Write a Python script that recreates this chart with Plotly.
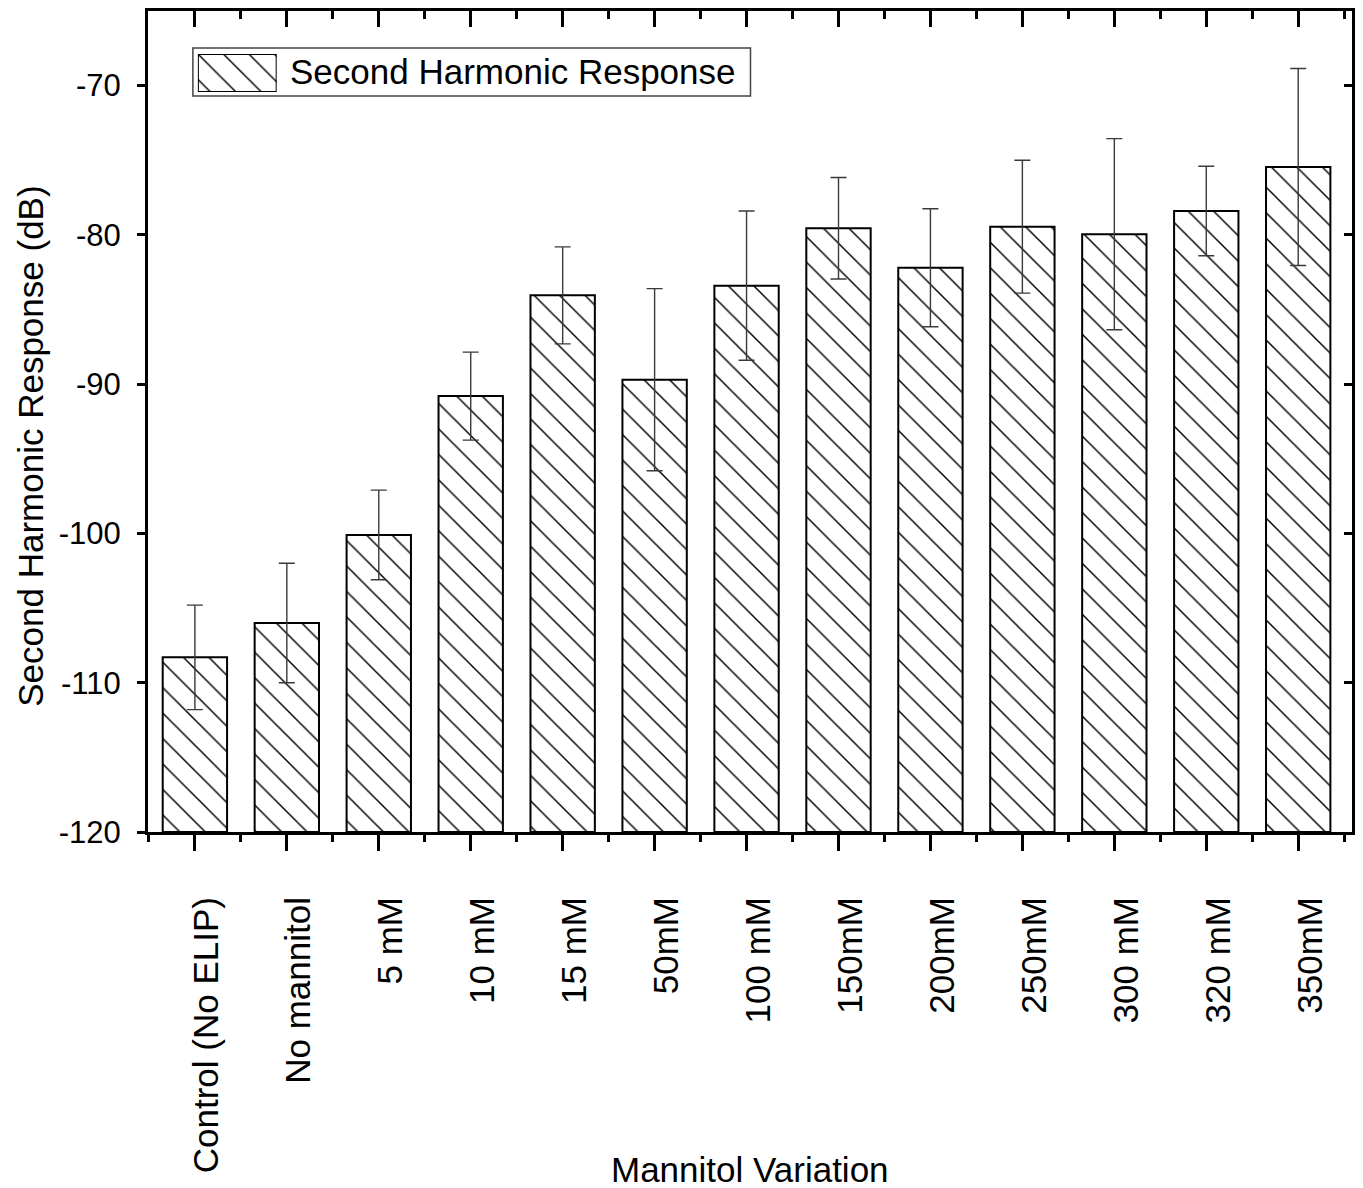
import plotly.graph_objects as go

categories = ["Control (No ELIP)", "No mannitol", "5 mM", "10 mM", "15 mM", "50mM",
              "100 mM", "150mM", "200mM", "250mM", "300 mM", "320 mM", "350mM"]
means = [-108.3, -106.0, -100.1, -90.8, -84.05, -89.7, -83.4, -79.55, -82.2,
         -79.45, -79.95, -78.4, -75.45]
errors = [3.5, 4.0, 3.0, 2.95, 3.25, 6.1, 5.0, 3.4, 3.95, 4.45, 6.4, 3.0, 6.6]
y_ticks = [-120, -110, -100, -90, -80, -70]
series_name = "Second Harmonic Response"
x_title = "Mannitol Variation"
y_title = "Second Harmonic Response (dB)"

Y_MIN, Y_MAX = -120, -65
X_RANGE = [-0.51, 12.585]
FONT = "Arial, Liberation Sans, sans-serif"

W, H = 1363, 1188
L, R, T, B = 148, 8, 10, 356
pw, ph = W - L - R, H - T - B


def px2paper_x(px):
    return (px - L) / pw


def px2paper_y(py):
    return (H - B - py) / ph


pattern = dict(shape="\\", size=18, solidity=0.08, fgcolor="black", bgcolor="white",
               fillmode="overlay", fgopacity=1)

fig = go.Figure()

# main bars (drawn from baseline -120 up to the mean)
fig.add_trace(go.Bar(
    x=categories,
    y=[m - Y_MIN for m in means],
    base=Y_MIN,
    width=0.7,
    name=series_name,
    showlegend=False,
    marker=dict(color="white", pattern=pattern, line=dict(color="black", width=2)),
    error_y=dict(type="data", array=errors, visible=True, color="#3a3a3a",
                 thickness=1.4, width=8),
))

# helper empty traces so that overlay tick axes are drawn
fig.add_trace(go.Scatter(x=[None], y=[None], xaxis="x2", yaxis="y", showlegend=False,
                         hoverinfo="skip"))
fig.add_trace(go.Scatter(x=[None], y=[None], xaxis="x3", yaxis="y", showlegend=False,
                         hoverinfo="skip"))
fig.add_trace(go.Scatter(x=[None], y=[None], xaxis="x", yaxis="y2", showlegend=False,
                         hoverinfo="skip"))

# legend swatch (custom legend)
fig.add_trace(go.Bar(
    x=[0], y=[1], width=1, xaxis="x4", yaxis="y4", showlegend=False, cliponaxis=False,
    hoverinfo="skip",
    marker=dict(color="white", pattern=pattern, line=dict(color="black", width=2)),
))

axis_common = dict(showgrid=False, zeroline=False, tickcolor="black", tickwidth=3)

fig.update_layout(
    width=W, height=H,
    margin=dict(l=L, r=R, t=T, b=B, pad=0),
    paper_bgcolor="white", plot_bgcolor="white",
    font=dict(family=FONT, color="black"),
    showlegend=False,
    xaxis=dict(
        type="category", range=X_RANGE, showline=True, linewidth=3, linecolor="black",
        mirror=True, ticks="outside", ticklen=16, tickangle=-90,
        tickfont=dict(size=35, family=FONT), ticklabelstandoff=32, ticklabelshift=12,
        **axis_common,
    ),
    xaxis2=dict(
        type="linear", overlaying="x", anchor="y", side="bottom", range=X_RANGE,
        tickmode="linear", tick0=0, dtick=1, ticks="outside", ticklen=16,
        showticklabels=False, showline=False,
        minor=dict(tick0=0, dtick=0.5, ticks="outside", ticklen=9, tickwidth=3,
                   tickcolor="black"),
        **axis_common,
    ),
    xaxis3=dict(
        type="linear", overlaying="x", anchor="y", side="top", range=X_RANGE,
        tickmode="linear", tick0=0, dtick=1, ticks="inside", ticklen=16,
        showticklabels=False, showline=False,
        minor=dict(tick0=0, dtick=0.5, ticks="inside", ticklen=8, tickwidth=3,
                   tickcolor="black"),
        **axis_common,
    ),
    yaxis=dict(
        range=[Y_MIN, Y_MAX], tickmode="array", tickvals=y_ticks,
        ticktext=[str(v) for v in y_ticks],
        showline=True, linewidth=3, linecolor="black", mirror=True,
        ticks="outside", ticklen=8, tickfont=dict(size=31, family=FONT),
        ticklabelstandoff=10,
        **axis_common,
    ),
    yaxis2=dict(
        overlaying="y", anchor="x", side="right", range=[Y_MIN, Y_MAX],
        tickmode="array", tickvals=y_ticks, ticks="inside", ticklen=8,
        showticklabels=False, showline=False,
        **axis_common,
    ),
    xaxis4=dict(domain=[px2paper_x(198), px2paper_x(277)], anchor="y4",
                range=[-0.5, 0.5], visible=False, fixedrange=True),
    yaxis4=dict(domain=[px2paper_y(91), px2paper_y(53)], anchor="x4",
                range=[0, 1], visible=False, fixedrange=True),
    shapes=[dict(type="rect", xref="paper", yref="paper",
                 x0=px2paper_x(193), x1=px2paper_x(752),
                 y0=px2paper_y(95), y1=px2paper_y(47),
                 line=dict(color="#444444", width=1.5), fillcolor="rgba(0,0,0,0)",
                 layer="below")],
    annotations=[
        dict(text=series_name, xref="paper", yref="paper", x=px2paper_x(288),
             y=px2paper_y(71), xanchor="left", yanchor="middle", showarrow=False,
             font=dict(size=35, family=FONT, color="black")),
        dict(text=x_title, xref="paper", yref="paper", x=px2paper_x(752),
             y=px2paper_y(1170), xanchor="center", yanchor="middle", showarrow=False,
             font=dict(size=35, family=FONT, color="black")),
        dict(text=y_title, xref="paper", yref="paper", x=px2paper_x(30),
             y=px2paper_y(446), xanchor="center", yanchor="middle", showarrow=False,
             textangle=-90, font=dict(size=35, family=FONT, color="black")),
    ],
)

fig.write_html("out.html")
